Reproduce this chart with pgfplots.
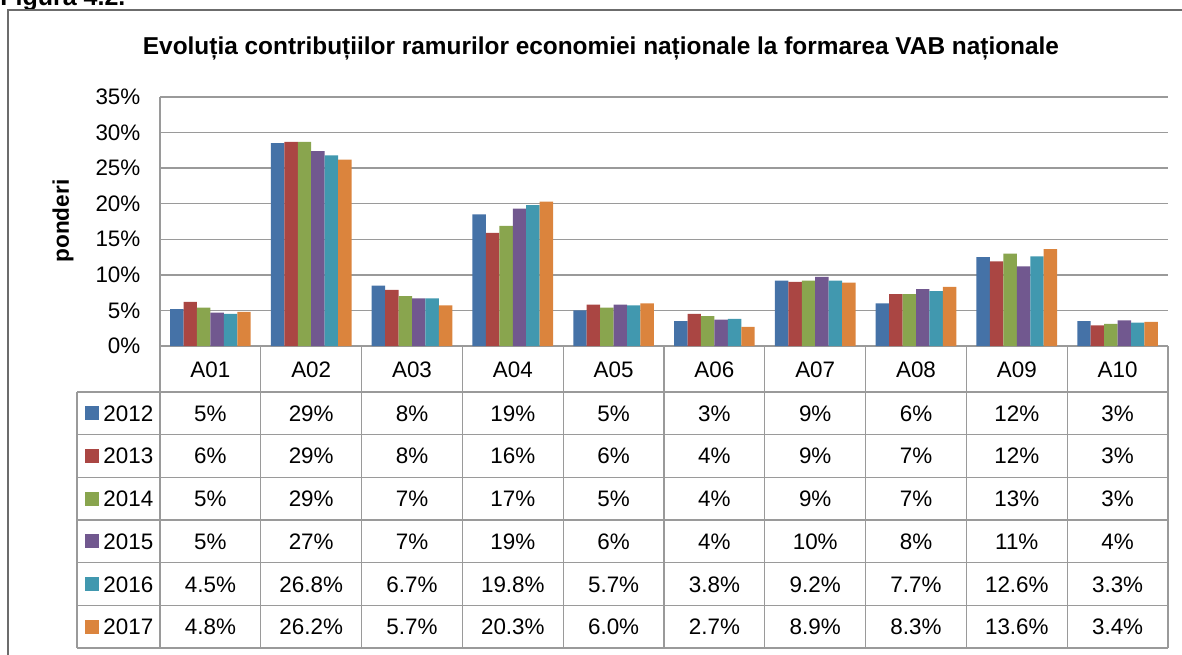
\documentclass[border=0pt]{standalone}
\usepackage{fontspec}
\setmainfont{Liberation Sans}
\usepackage{pgfplots}
\usepackage{pgfplotstable}
\pgfplotsset{compat=1.18}
\definecolor{cA}{HTML}{4572A7}
\definecolor{cB}{HTML}{AA4643}
\definecolor{cC}{HTML}{89A54E}
\definecolor{cD}{HTML}{71588F}
\definecolor{cE}{HTML}{4198AF}
\definecolor{cF}{HTML}{DB843D}
\definecolor{gl}{HTML}{9A9A9A}
\newcommand{\tfont}{\fontsize{11.2pt}{13pt}\selectfont}
\pgfplotstableread{
x a b c d e f
0 5.2 6.2 5.4 4.7 4.5 4.8
1 28.5 28.7 28.7 27.4 26.8 26.2
2 8.5 7.9 7.0 6.7 6.7 5.7
3 18.5 15.9 16.9 19.3 19.8 20.3
4 5.0 5.8 5.4 5.8 5.7 6.0
5 3.5 4.5 4.2 3.7 3.8 2.7
6 9.2 9.0 9.2 9.7 9.2 8.9
7 6.0 7.3 7.3 8.0 7.7 8.3
8 12.5 11.9 13.0 11.2 12.6 13.6
9 3.5 2.9 3.1 3.6 3.3 3.4
}\datatable
\begin{document}
\begin{tikzpicture}[x=0.5pt,y=0.5pt]
\useasboundingbox (0,0) rectangle (1182,654);
\clip (0,0) rectangle (1182,654);
% caption above the frame (cut off)
\node[anchor=base west, inner sep=0pt, font=\fontsize{12.5pt}{14pt}\selectfont\bfseries] at (0,648) {Figura 4.2.};
% frame
\draw[gray!85!black, line width=0.8pt] (8,-20) -- (8,644) -- (1220,644);
% title
\node[anchor=base, inner sep=0pt, font=\fontsize{12.2pt}{14pt}\selectfont\bfseries] at (601,599) {Evoluția contribuțiilor ramurilor economiei naționale la formarea VAB naționale};
% y label
\node[rotate=90, inner sep=0pt, font=\fontsize{11.3pt}{13pt}\selectfont\bfseries] at (63,433) {ponderi};
\begin{axis}[
  at={(80pt,154pt)}, anchor=south west,
  scale only axis, width=504pt, height=124.5pt,
  xmin=-0.5, xmax=9.5, ymin=0, ymax=35,
  enlargelimits=false,
  xtick=\empty,
  ytick={0,5,...,35},
  yticklabels={0\%,5\%,10\%,15\%,20\%,25\%,30\%,35\%},
  yticklabel style={font=\tfont, xshift=-6.3pt},
  major tick length=0pt,
  ymajorgrids, grid style={gl, line width=0.75pt},
  axis lines*=left, axis line style={gl, line width=0.75pt, -},
  ybar=0pt, bar width=6.72pt,
  every axis plot/.append style={draw=none},
]
\addplot[fill=cA] table[x=x,y=a]{\datatable};
\addplot[fill=cB] table[x=x,y=b]{\datatable};
\addplot[fill=cC] table[x=x,y=c]{\datatable};
\addplot[fill=cD] table[x=x,y=d]{\datatable};
\addplot[fill=cE] table[x=x,y=e]{\datatable};
\addplot[fill=cF] table[x=x,y=f]{\datatable};
\end{axis}
% data table lines
\foreach \yy in {262,219.33,176.67,134,91.33,48.67,6} {
  \draw[gl, line width=0.6pt] (77,\yy) -- (1168,\yy);
}
\draw[gl, line width=0.6pt] (77,262) -- (77,6);
\foreach \k in {0,...,10} {
  \draw[gl, line width=0.6pt] ({160+100.8*\k},308) -- ({160+100.8*\k},6);
}
% header labels
\foreach \lab [count=\k from 0] in {A01,A02,A03,A04,A05,A06,A07,A08,A09,A10} {
  \node[font=\tfont, inner sep=0pt, anchor=base] at ({210.4+100.8*\k},277) {\lab};
}
% rows
\foreach \r/\yr/\cc/\vals in {
  0/2012/cA/{5,29,8,19,5,3,9,6,12,3},
  1/2013/cB/{6,29,8,16,6,4,9,7,12,3},
  2/2014/cC/{5,29,7,17,5,4,9,7,13,3},
  3/2015/cD/{5,27,7,19,6,4,10,8,11,4},
  4/2016/cE/{4.5,26.8,6.7,19.8,5.7,3.8,9.2,7.7,12.6,3.3},
  5/2017/cF/{4.8,26.2,5.7,20.3,6.0,2.7,8.9,8.3,13.6,3.4}} {
  \pgfmathsetmacro{\cy}{240.67-42.667*\r}
  \pgfmathsetmacro{\by}{\cy-8}
  \fill[\cc] (85,\cy-7) rectangle (99,\cy+7);
  \node[font=\tfont, inner sep=0pt, anchor=base west] at (103,\by) {\yr};
  \foreach \v [count=\k from 0] in \vals {
    \node[font=\tfont, inner sep=0pt, anchor=base] at ({210.4+100.8*\k},\by) {\v\%};
  }
}
\end{tikzpicture}
\end{document}
